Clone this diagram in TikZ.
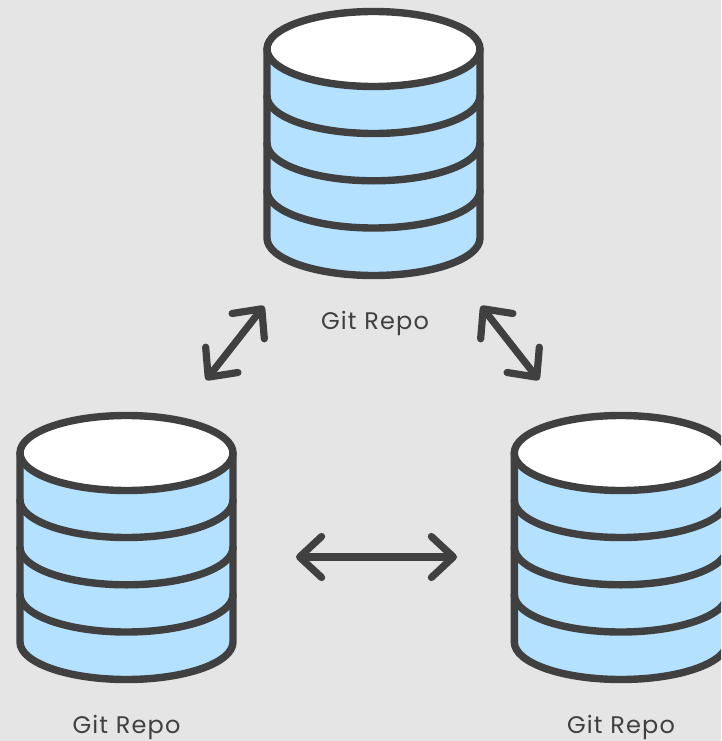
\documentclass[tikz,border=0pt]{standalone}
\usepackage{fontspec}
\setmainfont[LetterSpace=5]{Poppins}
\usetikzlibrary{arrows.meta}
\definecolor{bgc}{HTML}{E5E5E5}
\definecolor{ink}{HTML}{404040}
\definecolor{dbblue}{HTML}{B3E1FF}
\tikzset{
  x=1pt,y=-1pt,
  ln/.style={draw=ink,line width=7.4pt,line join=round,line cap=round},
  link/.style={draw=ink,line width=7.2pt,line cap=round,
    {Straight Barb[length=22pt,width=41pt,line cap=round,line join=round]}-{Straight Barb[length=22pt,width=41pt,line cap=round,line join=round]}},
  lbl/.style={text=ink,font=\fontsize{24}{26}\selectfont,anchor=base,inner sep=0pt},
  repo/.pic={
    \path[fill=dbblue] (-106.5,0) -- (-106.5,189) arc[start angle=180,end angle=360,x radius=106.5pt,y radius=37.5pt] -- (106.5,0) -- cycle;
    \draw[ln] (-106.5,0) -- (-106.5,189) arc[start angle=180,end angle=360,x radius=106.5pt,y radius=37.5pt] -- (106.5,0);
    \foreach \c in {47,94.3,141.5}
      \draw[ln] (-106.5,\c) arc[start angle=180,end angle=360,x radius=106.5pt,y radius=37.5pt];
    \draw[ln,fill=white] (0,0) ellipse[x radius=106.5pt,y radius=37.5pt];
  }
}
\begin{document}
\begin{tikzpicture}
\fill[bgc] (0,0) rectangle (721,741);
\useasboundingbox (0,0) rectangle (721,741);
\clip (0,0) rectangle (721,741);
\pic (topdb) at (373.5,49) {repo};
\pic (leftdb) at (126.5,453) {repo};
\pic (rightdb) at (620.8,453) {repo};
\node[lbl] (toplabel) at (375,329) {Git Repo};
\node[lbl] (leftlabel) at (126.5,733) {Git Repo};
\node[lbl] (rightlabel) at (621,733) {Git Repo};
\coordinate (a1) at (264,306); \coordinate (a2) at (206,380);
\coordinate (b1) at (481,306); \coordinate (b2) at (539,380);
\coordinate (c1) at (296,557); \coordinate (c2) at (457,557);
\draw[link] (a2) -- (a1);
\draw[link] (b1) -- (b2);
\draw[link] (c1) -- (c2);
\end{tikzpicture}
\end{document}
